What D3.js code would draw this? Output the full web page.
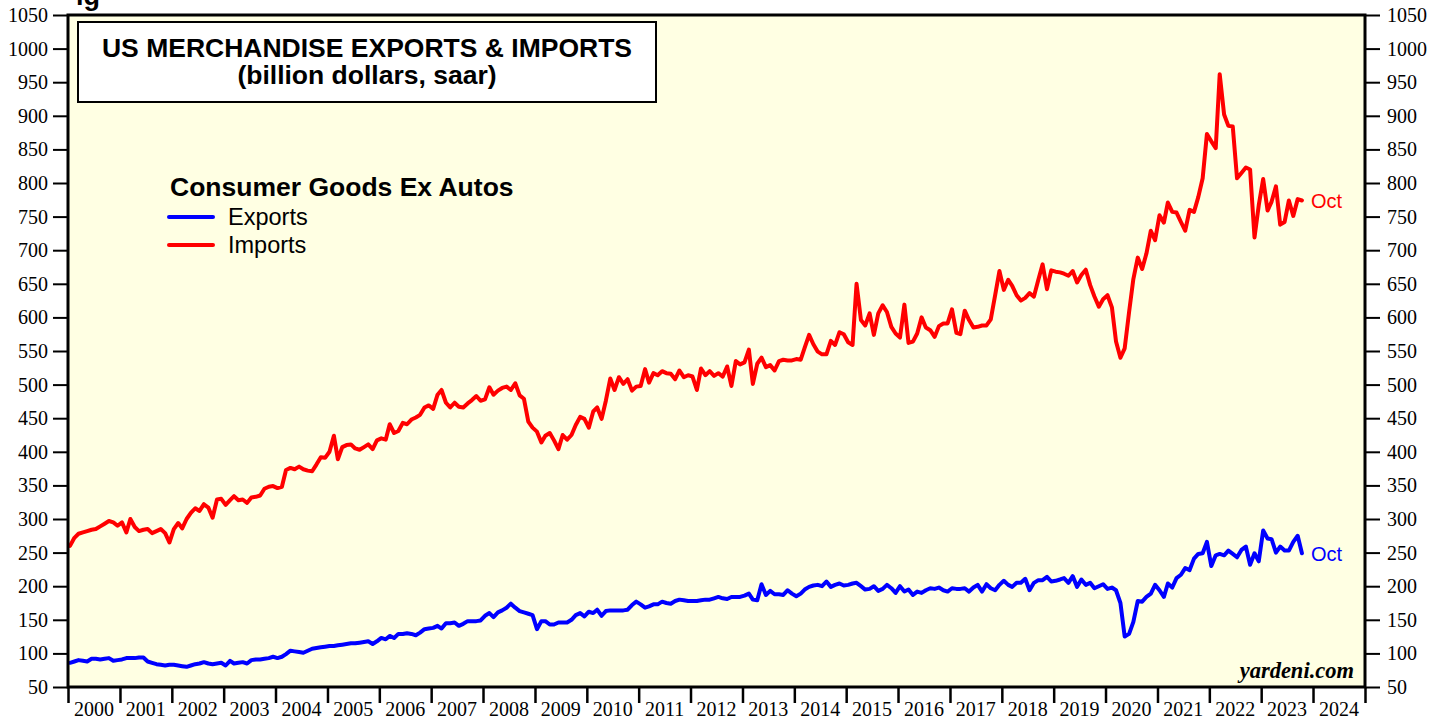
<!DOCTYPE html>
<html><head><meta charset="utf-8">
<script src="https://cdn.jsdelivr.net/npm/d3@7"></script>
<style>
body{margin:0;background:#fff;}
svg{display:block;}
</style>
</head><body>
<svg id="chart" width="1446" height="719"></svg>
<script>
// ---- data (billion dollars, saar), monthly Jan 2000 .. Oct 2023 ----
const years = d3.range(2000, 2024);
const exportsByYear = [
  [86, 88, 90, 89, 88, 92, 92, 91, 92, 93, 89, 90],
  [91, 93, 93, 93, 94, 94, 88, 86, 84, 83, 82, 83],
  [83, 82, 81, 80, 82, 84, 85, 87, 85, 84, 85, 86],
  [82, 89, 85, 86, 87, 85, 90, 91, 91, 92, 93, 95],
  [93, 95, 99, 104, 103, 102, 101, 104, 107, 108, 109, 110],
  [111, 111, 112, 113, 114, 115, 115, 116, 117, 118, 114, 118],
  [123, 121, 126, 123, 129, 129, 130, 129, 127, 131, 136, 137],
  [138, 141, 137, 145, 145, 146, 141, 144, 148, 148, 148, 149],
  [156, 160, 154, 161, 164, 168, 174, 168, 163, 161, 159, 157],
  [136, 148, 148, 143, 143, 146, 146, 146, 150, 157, 160, 155],
  [162, 160, 165, 156, 163, 164, 164, 164, 164, 165, 172, 177],
  [173, 168, 170, 173, 173, 177, 175, 174, 178, 180, 179, 178],
  [178, 178, 179, 180, 180, 182, 184, 182, 181, 184, 184, 184],
  [186, 189, 180, 179, 203, 187, 193, 188, 188, 187, 194, 189],
  [185, 189, 195, 199, 201, 202, 200, 207, 199, 202, 204, 201],
  [202, 204, 205, 200, 195, 196, 200, 193, 196, 202, 197, 190],
  [200, 192, 195, 187, 192, 190, 194, 197, 196, 198, 194, 192],
  [197, 196, 196, 197, 192, 198, 202, 192, 203, 197, 194, 202],
  [208, 202, 199, 205, 205, 211, 194, 205, 209, 209, 214, 207],
  [208, 210, 212, 205, 215, 199, 210, 202, 205, 197, 200, 203],
  [196, 198, 194, 175, 125, 129, 147, 178, 177, 184, 189, 202],
  [194, 184, 204, 198, 212, 217, 227, 224, 241, 248, 249, 266],
  [230, 246, 248, 246, 253, 248, 243, 254, 259, 232, 249, 237],
  [283, 271, 270, 250, 259, 253, 253, 266, 275, 249]
];
const importsByYear = [
  [260, 272, 278, 280, 282, 284, 285, 289, 293, 297, 295, 290],
  [295, 280, 300, 288, 282, 284, 285, 279, 282, 285, 279, 265],
  [285, 294, 286, 300, 309, 316, 312, 322, 317, 302, 329, 330],
  [321, 328, 334, 328, 329, 324, 332, 333, 335, 345, 348, 349],
  [346, 348, 373, 376, 374, 378, 374, 372, 371, 381, 392, 391],
  [400, 424, 389, 407, 410, 411, 405, 403, 407, 411, 404, 417],
  [420, 418, 441, 428, 431, 443, 441, 448, 451, 455, 466, 469],
  [464, 485, 492, 473, 466, 473, 467, 466, 472, 477, 483, 476],
  [478, 496, 485, 491, 495, 497, 492, 502, 484, 479, 445, 436],
  [430, 414, 424, 428, 417, 404, 425, 418, 425, 440, 452, 449],
  [436, 460, 466, 449, 476, 509, 492, 511, 501, 508, 491, 497],
  [498, 523, 503, 517, 514, 520, 517, 516, 508, 521, 511, 514],
  [512, 492, 524, 514, 520, 513, 517, 512, 527, 498, 535, 530],
  [533, 552, 501, 531, 540, 526, 529, 521, 535, 537, 536, 536],
  [538, 537, 555, 574, 560, 549, 545, 545, 565, 559, 578, 575],
  [563, 559, 650, 596, 588, 606, 574, 606, 618, 608, 586, 576],
  [570, 619, 562, 564, 576, 600, 585, 581, 571, 587, 591, 591],
  [612, 577, 575, 610, 596, 585, 586, 588, 588, 597, 633, 669],
  [641, 656, 647, 633, 625, 629, 636, 631, 656, 679, 642, 670],
  [668, 667, 665, 662, 669, 652, 663, 671, 648, 631, 616, 627],
  [633, 615, 564, 540, 554, 608, 657, 689, 672, 695, 729, 715],
  [752, 741, 771, 757, 756, 742, 729, 760, 757, 779, 807, 873],
  [862, 852, 962, 902, 885, 884, 807, 815, 823, 820, 719, 767],
  [806, 759, 772, 795, 738, 742, 774, 751, 776, 774]
];
const yTickValues = d3.range(50, 1051, 50);
const yearLabels = d3.range(2000, 2025).map(String);
const titleLines = ["US MERCHANDISE EXPORTS & IMPORTS", "(billion dollars, saar)"];
const legendTitle = "Consumer Goods Ex Autos";
const seriesNames = ["Exports", "Imports"];
const seriesColors = ["#0000ff", "#ff0000"];
const lastLabel = "Oct";

function toSeries(rows) {
  const out = [];
  rows.forEach((row, yi) => row.forEach((v, m) => out.push({date: new Date(years[yi], m, 15), value: v})));
  return out;
}
const exportsData = toSeries(exportsByYear);
const importsData = toSeries(importsByYear);

// ---- layout ----
const L = 68, R = 1365, T = 15, B = 687;
const svg = d3.select("#chart");
const x = d3.scaleTime().domain([new Date(2000,0,1), new Date(2025,0,1)]).range([L, R]);
const y = d3.scaleLinear().domain([50, 1050]).range([B, T]);
const sans = "Liberation Sans, Arial, sans-serif";
const serif = "Liberation Serif, Times New Roman, serif";

svg.append("rect").attr("x", L).attr("y", T).attr("width", R - L).attr("height", B - T)
  .attr("fill", "#ffffe3");

// cut-off text at very top (partly outside the picture, as in the reference)
svg.append("text").attr("x", 76).attr("y", 5).text("ig")
  .attr("font-family", sans).attr("font-weight", "bold")
  .attr("font-size", 27).attr("fill", "#000");

// axes
function styleAxis(g) {
  g.select(".domain").remove();
  g.selectAll(".tick line").attr("stroke", "#000").attr("stroke-width", 2);
  g.selectAll(".tick text").attr("font-family", serif).attr("font-size", 20).attr("fill", "#000");
}
svg.append("g").attr("transform", `translate(${L},0)`)
  .call(d3.axisLeft(y).tickValues(yTickValues).tickSize(15).tickPadding(5).tickFormat(d3.format("d")))
  .call(styleAxis);
svg.append("g").attr("transform", `translate(${R},0)`)
  .call(d3.axisRight(y).tickValues(yTickValues).tickSize(15).tickPadding(7).tickFormat(d3.format("d")))
  .call(styleAxis);
const yearStarts = d3.range(2000, 2026).map(yr => new Date(yr, 0, 1));
const xAxisG = svg.append("g").attr("transform", `translate(0,${B})`)
  .call(d3.axisBottom(x).tickValues(yearStarts).tickSize(16).tickFormat(""));
xAxisG.select(".domain").remove();
xAxisG.selectAll(".tick line").attr("stroke", "#000").attr("stroke-width", 2.5);
svg.append("g").selectAll("text").data(yearLabels).join("text")
  .attr("x", d => x(new Date(+d, 6, 2)))
  .attr("y", 716)
  .attr("text-anchor", "middle")
  .attr("font-family", serif).attr("font-size", 20).attr("fill", "#000")
  .text(d => d);

// lines
const line = d3.line().x(d => x(d.date)).y(d => y(d.value));
[[exportsData, seriesColors[0]], [importsData, seriesColors[1]]].forEach(([data, c]) => {
  svg.append("path").datum(data).attr("d", line)
    .attr("fill", "none").attr("stroke", c).attr("stroke-width", 4)
    .attr("stroke-linejoin", "round").attr("stroke-linecap", "round");
});

// Oct end labels
[[exportsData, seriesColors[0]], [importsData, seriesColors[1]]].forEach(([data, c]) => {
  const last = data[data.length - 1];
  svg.append("text").attr("x", x(last.date) + 9).attr("y", y(last.value) + 8)
    .attr("font-family", sans).attr("font-size", 20).attr("fill", c).text(lastLabel);
});

// frame
svg.append("rect").attr("x", L).attr("y", T).attr("width", R - L).attr("height", B - T)
  .attr("fill", "none").attr("stroke", "#000").attr("stroke-width", 3);

// title box
svg.append("rect").attr("x", 78).attr("y", 22).attr("width", 578).attr("height", 80)
  .attr("fill", "#fff").attr("stroke", "#000").attr("stroke-width", 2);
titleLines.forEach((t, i) => {
  svg.append("text").attr("x", 367).attr("y", 57 + i * 27).attr("text-anchor", "middle")
    .attr("font-family", sans).attr("font-weight", "bold").attr("font-size", 26.5)
    .attr("fill", "#000").text(t);
});

// legend
svg.append("text").attr("x", 170).attr("y", 196).attr("font-family", sans)
  .attr("font-weight", "bold").attr("font-size", 26.5).attr("fill", "#000").text(legendTitle);
seriesNames.forEach((n, i) => {
  const yy = 217 + i * 28;
  svg.append("line").attr("x1", 169).attr("x2", 213).attr("y1", yy).attr("y2", yy)
    .attr("stroke", seriesColors[i]).attr("stroke-width", 4).attr("stroke-linecap", "round");
  svg.append("text").attr("x", 228).attr("y", yy + 8).attr("font-family", sans)
    .attr("font-size", 23.5).attr("fill", "#000").text(n);
});

// watermark
svg.append("text").attr("x", 1354).attr("y", 678).attr("text-anchor", "end")
  .attr("font-family", serif).attr("font-weight", "bold").attr("font-style", "italic")
  .attr("font-size", 22.5).attr("fill", "#000").text("yardeni.com");
</script>
</body></html>
